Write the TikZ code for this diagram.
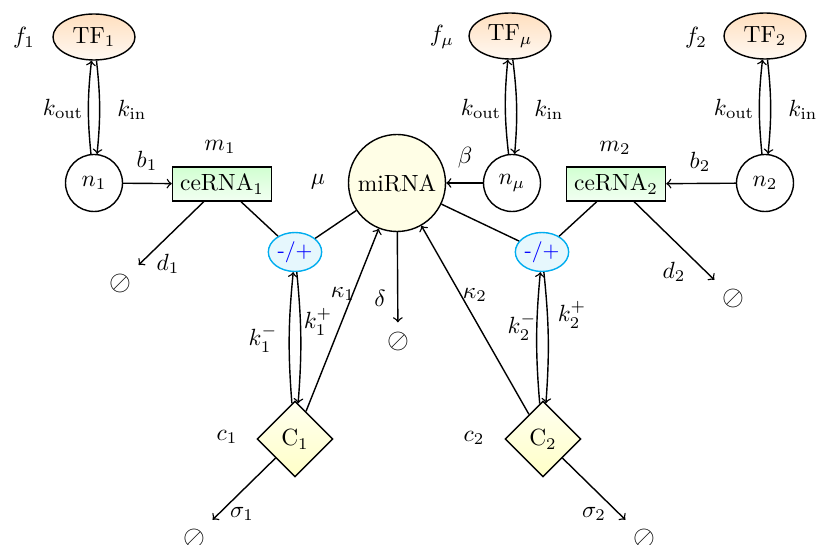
\documentclass[tikz,border=0pt]{standalone}
\usetikzlibrary{shapes.geometric,arrows}
\begin{document}
\begin{tikzpicture}[x=0.015cm,y=-0.015cm,
  tf/.style={ellipse,draw,semithick,minimum width=1.23cm,minimum height=0.69cm,inner sep=1pt,top color=orange!25,bottom color=orange!5},
  nuc/.style={circle,draw,semithick,minimum size=0.855cm,inner sep=0pt},
  cerna/.style={rectangle,draw,semithick,minimum width=1.485cm,minimum height=0.51cm,inner sep=2pt,top color=green!18,bottom color=green!5},
  mirna/.style={circle,draw,semithick,minimum size=1.455cm,inner sep=0pt,fill=yellow!10},
  pm/.style={ellipse,draw=cyan,semithick,minimum width=0.8cm,minimum height=0.585cm,inner sep=0pt,fill=cyan!10,text=blue,font=\sffamily\small},
  cplx/.style={diamond,draw,semithick,minimum size=1.14cm,inner sep=0pt,top color=yellow!6,bottom color=yellow!22},
  sink/.style={rectangle,minimum size=15.5pt,inner sep=0pt,font=\large},
  lab/.style={inner sep=1pt},
  arr/.style={->,semithick},
  ln/.style={semithick}]
\useasboundingbox (0,0) rectangle (816,545);
% nodes
\node[tf] (TF1) at (94,37) {TF$_1$};
\node[tf] (TFm) at (510,36) {TF$_\mu$};
\node[tf] (TF2) at (765,36) {TF$_2$};
\node[nuc] (n1) at (94,183) {$n_1$};
\node[nuc] (nm) at (512,183) {$n_\mu$};
\node[nuc] (n2) at (765,183) {$n_2$};
\node[cerna] (c1) at (222,184) {ceRNA$_1$};
\node[cerna] (c2) at (616,184) {ceRNA$_2$};
\node[mirna] (mi) at (397,183) {miRNA};
\node[pm] (p1) at (295,252) {-/+};
\node[pm] (p2) at (542,252) {-/+};
\node[cplx] (C1) at (295,439) {C$_1$};
\node[cplx] (C2) at (543,439) {C$_2$};
\node[sink] (e1) at (120,283) {$\oslash$};
\node[sink] (e2) at (733,298) {$\oslash$};
\node[sink] (em) at (398,341) {$\oslash$};
\node[sink] (ec1) at (194,538) {$\oslash$};
\node[sink] (ec2) at (644,538) {$\oslash$};
% labels
\node[lab] (lf1) at (24,38) {$f_1$};
\node[lab] (lfm) at (442,37) {$f_\mu$};
\node[lab] (lf2) at (696,38) {$f_2$};
\node[lab] (lko1) at (63,109) {$k_{\mathrm{out}}$};
\node[lab] (lki1) at (132,110) {$k_{\mathrm{in}}$};
\node[lab] (lkom) at (481,109) {$k_{\mathrm{out}}$};
\node[lab] (lkim) at (549,110) {$k_{\mathrm{in}}$};
\node[lab] (lko2) at (734,109) {$k_{\mathrm{out}}$};
\node[lab] (lki2) at (803,110) {$k_{\mathrm{in}}$};
\node[lab] (lm1) at (220,147) {$m_1$};
\node[lab] (lm2) at (615,148) {$m_2$};
\node[lab] (lb1) at (147,161) {$b_1$};
\node[lab] (lb2) at (700,162) {$b_2$};
\node[lab] (lbeta) at (465,158) {$\beta$};
\node[lab] (lmu) at (318,182) {$\mu$};
\node[lab] (ld1) at (168,264) {$d_1$};
\node[lab] (ld2) at (674,272) {$d_2$};
\node[lab] (ldel) at (380,298) {$\delta$};
\node[lab] (lkm1) at (263,339) {$k_1^-$};
\node[lab] (lkp1) at (318,322) {$k_1^+$};
\node[lab] (lkap1) at (343,294) {$\kappa_1$};
\node[lab] (lkm2) at (522,327) {$k_2^-$};
\node[lab] (lkp2) at (572,315) {$k_2^+$};
\node[lab] (lkap2) at (475,295) {$\kappa_2$};
\node[lab] (lc1) at (227,437) {$c_1$};
\node[lab] (lc2) at (474,438) {$c_2$};
\node[lab] (ls1) at (242,514) {$\sigma_1$};
\node[lab] (ls2) at (594,514) {$\sigma_2$};
% connectors
\draw[arr] (n1) to[bend left=6] (TF1);
\draw[arr] (TF1) to[bend left=6] (n1);
\draw[arr] (nm) to[bend left=6] (TFm);
\draw[arr] (TFm) to[bend left=6] (nm);
\draw[arr] (n2) to[bend left=6] (TF2);
\draw[arr] (TF2) to[bend left=6] (n2);
\draw[arr] (n1) -- (c1);
\draw[arr] (nm) -- (mi);
\draw[arr] (n2) -- (c2);
\draw[arr] (c1) -- (e1);
\draw[arr] (c2) -- (e2);
\draw[arr] (mi) -- (em);
\draw[ln] (c1) -- (p1);
\draw[ln] (mi) -- (p1);
\draw[ln] (mi) -- (p2);
\draw[ln] (c2) -- (p2);
\draw[arr] (C1) to[bend left=5] (p1);
\draw[arr] (p1) to[bend left=5] (C1);
\draw[arr] (C2) to[bend left=5] (p2);
\draw[arr] (p2) to[bend left=5] (C2);
\draw[arr] (C1) -- (mi);
\draw[arr] (C2) -- (mi);
\draw[arr] (C1) -- (ec1);
\draw[arr] (C2) -- (ec2);
\end{tikzpicture}
\end{document}
